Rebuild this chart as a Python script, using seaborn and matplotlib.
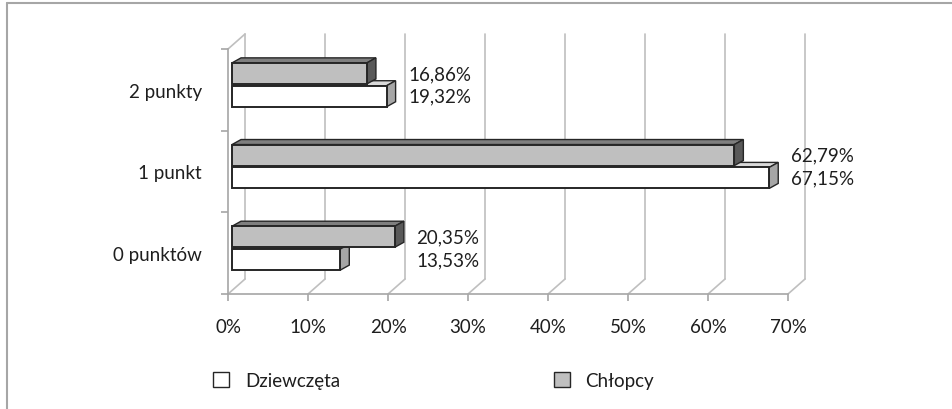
import numpy as np
import pandas as pd
import matplotlib
matplotlib.use("Agg")
import matplotlib.pyplot as plt
import seaborn as sns
from matplotlib.patches import Polygon, Patch
from matplotlib.lines import Line2D
from matplotlib.transforms import ScaledTranslation, IdentityTransform

# dane (w %)
categories = ["2 punkty", "1 punkt", "0 punktów"]
series = ["Chłopcy", "Dziewczęta"]
chlopcy = [16.86, 62.79, 20.35]
dziewczeta = [19.32, 67.15, 13.53]
xticks = [0, 10, 20, 30, 40, 50, 60, 70]
xtick_labels = [f"{t}%" for t in xticks]

df = pd.DataFrame({
    "kategoria": categories * 2,
    "grupa": [series[0]] * len(categories) + [series[1]] * len(categories),
    "procent": chlopcy + dziewczeta,
})

sns.set_theme(style="white")
plt.rcParams["font.family"] = ["Lato", "DejaVu Sans"]
FS = 13.5
TXT = "#1e1e1e"
GRID = "#bfbfbf"
EDGE = "#262626"
colors = {"Chłopcy": "#bfbfbf", "Dziewczęta": "#ffffff"}
# kolory ścian 3D (góra, bok)
faces = {"Chłopcy": ("#7f7f7f", "#595959"), "Dziewczęta": ("#d9d9d9", "#a6a6a6")}

DPI = 100
fig = plt.figure(figsize=(9.53, 4.10), dpi=DPI)
ax = fig.add_axes([0.2393, 0.2805, 0.5876, 0.5976])

sns.barplot(data=df, y="kategoria", x="procent", hue="grupa",
            order=categories, hue_order=series, palette=colors,
            width=0.56, gap=0.08, edgecolor=EDGE, linewidth=1.4,
            legend=False, ax=ax, zorder=3)
ax.set_xlim(0, 70)

# przesunięcia "3D" w pikselach
def shift(dx, dy):
    return ScaledTranslation(dx / DPI, dy / DPI, fig.dpi_scale_trans)

bar_shift = ax.transData + shift(4, 5)
wall = shift(17, 15)
bar_dx, bar_dy = 9, 5

# tylna ściana: pionowe linie siatki + łączniki na podłodze
xt = ax.get_xaxis_transform()
for t in xticks:
    ax.add_line(Line2D([t, t], [0, 1], transform=xt + wall, color=GRID,
                       lw=1.2, zorder=1, clip_on=False))
    (fx, fy), = xt.transform([[t, 0]])
    ax.add_line(Line2D([fx, fx + 17], [fy, fy + 15], transform=IdentityTransform(),
                       color=GRID, lw=1.2, zorder=1, clip_on=False))
(tx, ty), = xt.transform([[0, 1]])
ax.add_line(Line2D([tx, tx + 17], [ty, ty + 15], transform=IdentityTransform(),
                   color=GRID, lw=1.2, zorder=1, clip_on=False))

# słupki z bokiem i górą
n = len(categories)
polys = []
for i, patch in enumerate(ax.patches):
    grp = series[i // n]
    patch.set_transform(bar_shift)
    x0, y0 = patch.get_x(), patch.get_y()
    x1, y1 = x0 + patch.get_width(), y0 + patch.get_height()
    (ax0, ay0), (ax1, ay1) = bar_shift.transform([[x0, y0], [x1, y1]])
    left, right = min(ax0, ax1), max(ax0, ax1)
    bottom, top = min(ay0, ay1), max(ay0, ay1)
    top_c, side_c = faces[grp]
    polys.append((grp, Polygon([(left, top), (left + bar_dx, top + bar_dy),
                                (right + bar_dx, top + bar_dy), (right, top)],
                               closed=True, fc=top_c, ec=EDGE, lw=1.0)))
    polys.append((grp, Polygon([(right, bottom), (right + bar_dx, bottom + bar_dy),
                                (right + bar_dx, top + bar_dy), (right, top)],
                               closed=True, fc=side_c, ec=EDGE, lw=1.0)))
for grp in ["Dziewczęta", "Chłopcy"]:
    for g, p in polys:
        if g == grp:
            p.set_transform(IdentityTransform())
            p.set_zorder(2.5 if grp == "Dziewczęta" else 2.7)
            p.set_clip_on(False)
            ax.add_artist(p)
# przód słupków Chłopców nad ścianami Dziewcząt
for i, patch in enumerate(ax.patches[:2 * n]):
    patch.set_zorder(2.6 if i >= n else 2.8)

# etykiety wartości
for i, cat in enumerate(categories):
    xm = max(chlopcy[i], dziewczeta[i])
    for j, (grp, vals) in enumerate(zip(series, [chlopcy, dziewczeta])):
        patch = ax.patches[j * n + i]
        yc = patch.get_y() + patch.get_height() / 2
        ax.annotate(f"{vals[i]:.2f}".replace(".", ",") + "%", xy=(xm, yc),
                    xycoords=bar_shift, xytext=(15.5, 0), textcoords="offset points",
                    ha="left", va="center", fontsize=FS, color=TXT)

# osie
ax.set_xticks(xticks)
ax.set_xticklabels(xtick_labels)
ax.set_yticks(range(n))
ax.set_yticklabels(categories)
ax.set_yticks([k - 0.5 for k in range(n + 1)], minor=True)
ax.set_xlabel("")
ax.set_ylabel("")
for s in ["top", "right"]:
    ax.spines[s].set_visible(False)
for s in ["left", "bottom"]:
    ax.spines[s].set_color("#a6a6a6")
    ax.spines[s].set_linewidth(1.2)
ax.tick_params(axis="x", bottom=True, direction="out", length=5, width=1.2,
               color="#a6a6a6", pad=12, labelsize=FS, labelcolor=TXT)
ax.tick_params(axis="y", which="major", left=False, length=0, pad=19,
               labelsize=FS, labelcolor=TXT)
ax.tick_params(axis="y", which="minor", left=True, direction="out", length=5,
               width=1.2, color="#a6a6a6")
ax.set_facecolor("none")

# legenda
handles = [Patch(fc=colors["Dziewczęta"], ec=EDGE, lw=1.0, label="Dziewczęta"),
           Patch(fc=colors["Chłopcy"], ec=EDGE, lw=1.0, label="Chłopcy")]
fig.legend(handles=handles, loc="center left", bbox_to_anchor=(213 / 953, 0.07),
           ncol=2, frameon=False, fontsize=FS, borderpad=0, borderaxespad=0,
           handlelength=0.85, handleheight=0.85, handletextpad=0.85,
           columnspacing=11.4, labelcolor=TXT)

# ramka wykresu
fig.add_artist(Line2D([0.0075, 0.0075], [0, 0.99], transform=fig.transFigure,
                      color="#a6a6a6", lw=1.5))
fig.add_artist(Line2D([0.0075, 1.0], [0.99, 0.99], transform=fig.transFigure,
                      color="#a6a6a6", lw=1.5))

fig.savefig("out.png", dpi=DPI, facecolor="white")
